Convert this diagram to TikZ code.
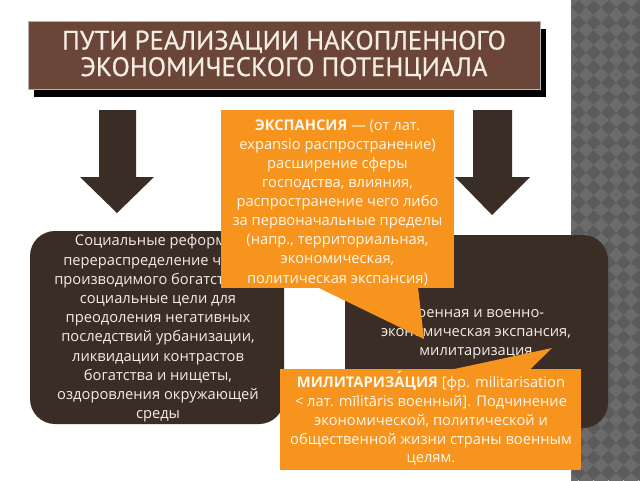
\documentclass[tikz,border=0pt]{standalone}
\usepackage{fontspec}
\setmainfont{Open Sans}
\newfontfamily\titlefont[FakeBold=0.6]{PT Sans}
\usetikzlibrary{shadows}
\definecolor{titlebrown}{HTML}{6B4538}
\definecolor{darkbox}{HTML}{3A2D26}
\definecolor{orangebox}{HTML}{F7941E}
\definecolor{cream}{HTML}{F3EDE4}
\definecolor{owhite}{HTML}{FFF8EE}
\definecolor{stripA}{HTML}{5B5B5B}
\definecolor{stripB}{HTML}{6B6B6B}
\newcommand{\stressA}{\ooalign{А\cr\hidewidth\raisebox{0.62ex}{´}\hidewidth}}
\begin{document}
\begin{tikzpicture}[x=1pt,y=-1pt,
  titlebox/.style={fill=titlebrown, draw=gray!60, line width=0.8pt, minimum width=512pt, minimum height=68pt,
    text=cream, align=center, font=\titlefont\fontsize{26.7}{26.5}\selectfont,
    drop shadow={shadow xshift=6pt, shadow yshift=-8pt, fill=black, opacity=1}},
  darkpanel/.style={fill=darkbox, rounded corners=25pt, inner sep=0pt},
  panelText/.style={text=cream, align=center, font=\fontsize{14.7}{19.2}\selectfont},
  orangepanel/.style={fill=orangebox, inner sep=0pt},
  orangeText/.style={text=owhite, align=center, font=\fontsize{14.7}{19.1}\selectfont},
  blockarrow/.style={fill=darkbox}
]
\useasboundingbox (0,0) rectangle (640,480);
\fill[white] (0,0) rectangle (640,480);
% patterned strip
\begin{scope}
\clip (571,0) rectangle (640,480);
\fill[stripA] (571,0) rectangle (640,480);
\foreach \i in {0,...,5}{
  \foreach \j in {0,...,33}{
    \fill[stripB] (571+15*\i,15*\j-7.5) -- ++(7.5,7.5) -- ++(-7.5,7.5) -- ++(-7.5,-7.5) -- cycle;
  }
}
\end{scope}
% title
\node[titlebox] (title) at (284,55) {ПУТИ РЕАЛИЗАЦИИ НАКОПЛЕННОГО\\ЭКОНОМИЧЕСКОГО ПОТЕНЦИАЛА};
% arrows
\fill[blockarrow] (99,110) -- (136,110) -- (136,177) -- (154,177) -- (117,213) -- (80,177) -- (99,177) -- cycle;
\fill[blockarrow] (473,110) -- (512,110) -- (512,177) -- (530,177) -- (492,215) -- (455,177) -- (473,177) -- cycle;
% dark panels
\node[darkpanel, minimum width=254pt, minimum height=193pt] (social) at (157,327.5) {};
\node[panelText] (socialtext) at (158,328.5)
 {Социальные реформы,\\перераспределение части\\производимого богатства на\\социальные цели для\\преодоления негативных\\последствий урбанизации,\\ликвидации контрастов\\богатства и нищеты,\\оздоровления окружающей\\среды};
\node[darkpanel, minimum width=263pt, minimum height=193pt] (military) at (476.5,331.5) {};
\node[panelText] (militarytext) at (476,333)
 {Военная и военно-\\экономическая экспансия,\\милитаризация};
% orange callout 1
\node[orangepanel, minimum width=233pt, minimum height=178pt] (expansion) at (337.5,199) {};
\node[orangeText] (expansiontext) at (337.5,202.5)
 {\textbf{ЭКСПАНСИЯ} — (от лат.\\expansio распространение)\\расширение сферы\\господства, влияния,\\распространение чего либо\\за первоначальные пределы\\(напр., территориальная,\\экономическая,\\политическая экспансия)};
\coordinate (exptip) at (424,339);
\fill[orangebox] (318,287.5) -- (exptip) -- (418,287.5) -- cycle;
% orange callout 2
\node[orangepanel, minimum width=301pt, minimum height=101pt] (militar) at (430.5,419.5) {};
\node[orangeText, font=\fontsize{14.7}{18.8}\selectfont] (militartext) at (431,421)
 {\textbf{МИЛИТАРИЗ\stressA ЦИЯ} [фр. militarisation\\< лат. mīlitāris военный]. Подчинение\\экономической, политической и\\общественной жизни страны военным\\целям.};
\coordinate (miltip) at (552,348);
\fill[orangebox] (452,369.5) -- (miltip) -- (530,369.5) -- cycle;
\end{tikzpicture}
\end{document}
